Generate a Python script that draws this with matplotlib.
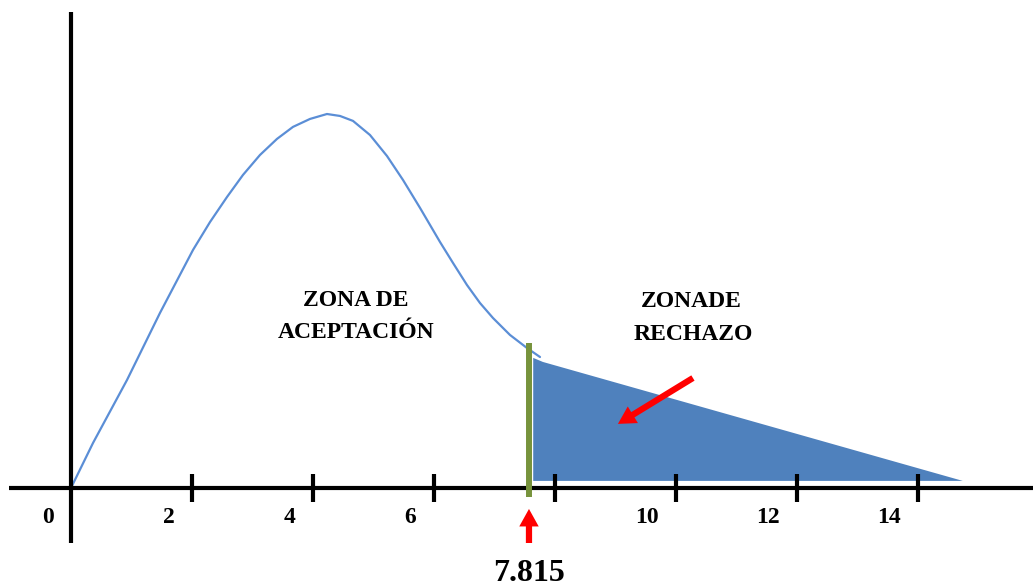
import matplotlib
matplotlib.use("Agg")
import matplotlib.pyplot as plt

# Curva de densidad
curva_x = [0.000, 0.364, 0.926, 1.471, 2.017, 2.298, 2.579, 2.843, 3.124, 3.405,
           3.669, 3.950, 4.231, 4.446, 4.661, 4.942, 5.223, 5.488, 5.769, 6.099,
           6.314, 6.545, 6.760, 6.975, 7.256, 7.537, 7.752]
curva_y = [0.0000, 0.0300, 0.0720, 0.1167, 0.1587, 0.1773, 0.1940, 0.2087, 0.2220, 0.2327,
           0.2407, 0.2460, 0.2493, 0.2480, 0.2447, 0.2353, 0.2213, 0.2053, 0.1867, 0.1640,
           0.1500, 0.1353, 0.1233, 0.1133, 0.1020, 0.0933, 0.0873]

# Zona de rechazo (polígono sombreado)
rechazo_x = [7.64, 7.80, 14.74, 7.64]
rechazo_y = [0.0867, 0.084, 0.0047, 0.0047]

# Marcas del eje
ticks = [2, 4, 6, 8, 10, 12, 14]
etiquetas = [0, 2, 4, 6, 10, 12, 14]

valor_critico = 7.57
texto_critico = "7.815"

fig = plt.figure(figsize=(10.33, 5.88), dpi=100)
ax = fig.add_axes([0, 0, 1, 1])
ax.set_xlim(-1.1736, 15.901)
ax.set_ylim(-0.0667, 0.3253)
ax.axis('off')

serif = ['Liberation Serif', 'DejaVu Serif']

# Zona sombreada
ax.fill(rechazo_x, rechazo_y, color='#4F81BD', lw=0, zorder=2)

# Curva
ax.plot(curva_x, curva_y, color='#5B8ED6', lw=1.6, zorder=3,
        solid_capstyle='round', solid_joinstyle='round')

# Ejes dibujados a mano
ax.plot([-1.02, 15.901], [0, 0], color='black', lw=3.0, zorder=4, solid_capstyle='butt')
ax.plot([0, 0], [-0.037, 0.317], color='black', lw=3.0, zorder=4, solid_capstyle='butt')
for t in ticks:
    ax.plot([t, t], [-0.0093, 0.0093], color='black', lw=3.0, zorder=4, solid_capstyle='butt')

for e in etiquetas:
    ax.text(e - 0.29, -0.02, str(e), ha='right', va='center', fontsize=17,
            fontweight='bold', family=serif, zorder=5)

# Línea del valor crítico
ax.plot([valor_critico, valor_critico], [-0.006, 0.0967], color='#77933C', lw=4.3,
        zorder=5, solid_capstyle='butt')

ax.text(valor_critico, -0.057, texto_critico, ha='center', va='center', fontsize=23,
        fontweight='bold', family=serif)

# Textos de las zonas
ax.text(4.71, 0.1253, "ZONA DE", ha='center', va='center', fontsize=17,
        fontweight='bold', family=serif)
ax.text(4.71, 0.1033, "ACEPTACIÓN", ha='center', va='center', fontsize=17,
        fontweight='bold', family=serif)
ax.text(10.25, 0.124, "ZONADE", ha='center', va='center', fontsize=17,
        fontweight='bold', family=serif)
ax.text(10.29, 0.102, "RECHAZO", ha='center', va='center', fontsize=17,
        fontweight='bold', family=serif)

# Flechas rojas
estilo = dict(arrowstyle="simple,head_width=1.0,head_length=0.9,tail_width=0.32",
              color='red', lw=0, shrinkA=0, shrinkB=0, mutation_scale=14)
ax.annotate("", xy=(valor_critico, -0.014), xytext=(valor_critico, -0.0367), arrowprops=estilo)
ax.annotate("", xy=(9.04, 0.0427), xytext=(10.28, 0.0733), arrowprops=estilo)

plt.savefig("out.png", dpi=100)
plt.close()
